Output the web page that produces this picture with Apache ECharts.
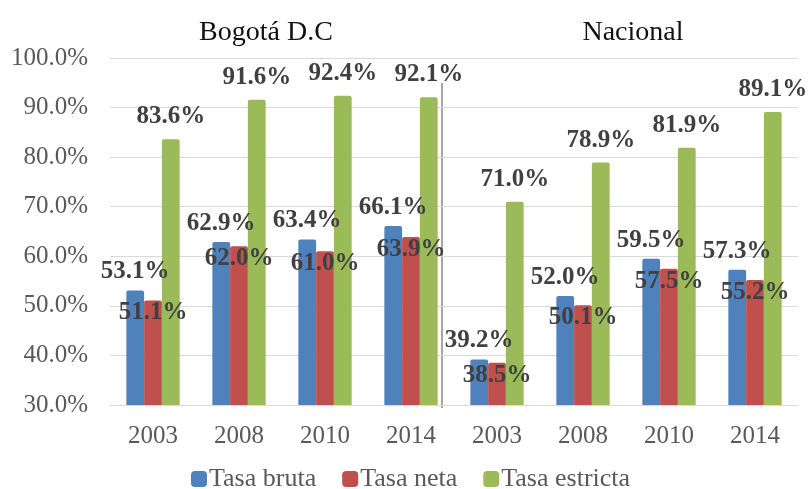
<!DOCTYPE html>
<html>
<head>
<meta charset="utf-8">
<script src="https://cdn.jsdelivr.net/npm/echarts@6/dist/echarts.min.js"></script>
<style>
  html, body { margin: 0; padding: 0; background: #fff; }
  #chart { width: 810px; height: 489px; }
</style>
</head>
<body>
<div id="chart"></div>
<script>
  // años: 4 de Bogotá y 4 nacionales
  const years = ['2003', '2008', '2010', '2014', '2003', '2008', '2010', '2014']
  const groupTitles = ['Bogotá D.C', 'Nacional']
  const seriesNames = ['Tasa bruta', 'Tasa neta', 'Tasa estricta']
  const tasaBruta = [53.1, 62.9, 63.4, 66.1, 39.2, 52.0, 59.5, 57.3]
  const tasaNeta = [51.1, 62.0, 61.0, 63.9, 38.5, 50.1, 57.5, 55.2]
  const tasaEstricta = [83.6, 91.6, 92.4, 92.1, 71.0, 78.9, 81.9, 89.1]
  const yTicks = [30, 40, 50, 60, 70, 80, 90, 100]

  const font = '"Liberation Serif", "Times New Roman", serif'
  const colors = ['#4f81bd', '#c0504d', '#9bbb59']

  const chart = echarts.init(document.getElementById('chart'))

  function labelOf(position, distance) {
    return {
      show: true,
      position: position,
      distance: distance,
      fontFamily: font,
      fontSize: 25,
      fontWeight: 'bold',
      color: '#404040',
      textBorderWidth: 0,
      formatter: p => p.value.toFixed(1) + '%'
    }
  }

  chart.setOption({
    animation: false,
    color: colors,
    textStyle: { fontFamily: font },
    title: [
      { text: groupTitles[0], left: 261, top: 14, textAlign: 'center',
        textStyle: { fontFamily: font, fontSize: 28, fontWeight: 'normal', color: '#111' } },
      { text: groupTitles[1], left: 628, top: 14, textAlign: 'center',
        textStyle: { fontFamily: font, fontSize: 28, fontWeight: 'normal', color: '#111' } }
    ],
    legend: {
      top: 461,
      left: 186,
      itemWidth: 16,
      itemHeight: 16,
      itemGap: 26,
      icon: 'roundRect',
      textStyle: { fontFamily: font, fontSize: 26, color: '#595959', padding: [0, 0, 0, -3] },
      data: seriesNames
    },
    grid: { left: 110, right: 12, top: 58, bottom: 84 },
    xAxis: {
      type: 'category',
      data: years,
      axisLine: { lineStyle: { color: '#d9d9d9' } },
      axisTick: { show: false },
      axisLabel: { fontFamily: font, fontSize: 25, color: '#595959', margin: 19 }
    },
    yAxis: {
      type: 'value',
      min: yTicks[0],
      max: yTicks[yTicks.length - 1],
      interval: 10,
      axisLine: { show: false },
      axisTick: { show: false },
      splitLine: { lineStyle: { color: '#d9d9d9' } },
      axisLabel: {
        fontFamily: font, fontSize: 25, color: '#595959', margin: 22,
        formatter: v => v.toFixed(1) + '%'
      }
    },
    series: [
      { name: seriesNames[0], type: 'bar', data: tasaBruta, barGap: '0%', barCategoryGap: '38%',
        itemStyle: { borderRadius: [2, 2, 0, 0] }, label: labelOf('top', 6) },
      { name: seriesNames[1], type: 'bar', data: tasaNeta, barGap: '0%', barCategoryGap: '38%',
        itemStyle: { borderRadius: [2, 2, 0, 0] }, label: labelOf('insideTop', 0) },
      { name: seriesNames[2], type: 'bar', data: tasaEstricta, barGap: '0%', barCategoryGap: '38%',
        itemStyle: { borderRadius: [2, 2, 0, 0] }, label: labelOf('top', 10) }
    ],
    // línea que separa Bogotá de Nacional
    graphic: [{
      type: 'line',
      shape: { x1: 442, y1: 83, x2: 442, y2: 408 },
      style: { stroke: '#a6a6a6', lineWidth: 2 }
    }]
  })
</script>
</body>
</html>
